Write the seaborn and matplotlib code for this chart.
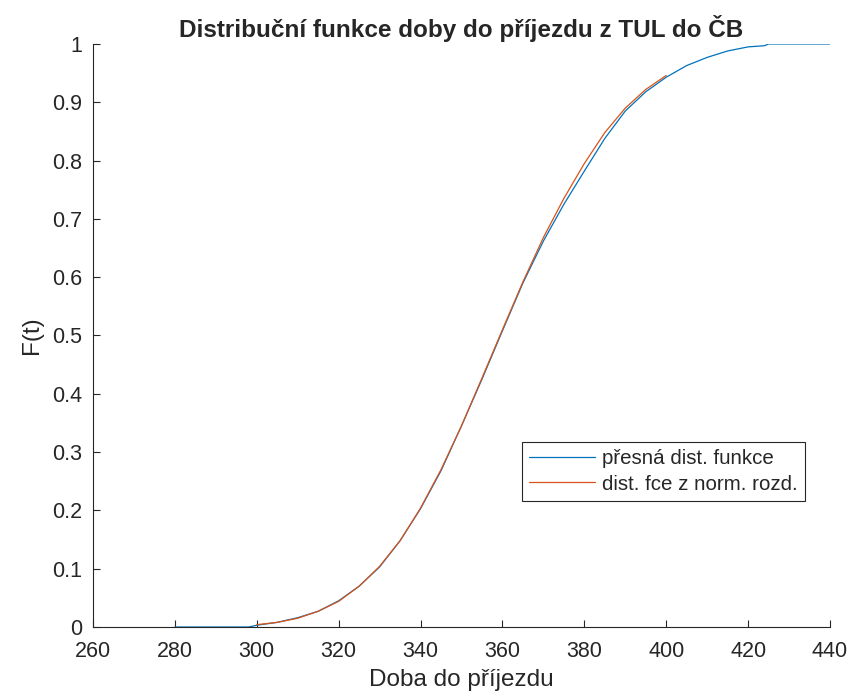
import pandas as pd
import matplotlib
matplotlib.use("Agg")
import matplotlib.pyplot as plt
import seaborn as sns

# values
t_exact = [280, 298, 300, 305, 310, 315, 320, 325, 330, 335, 340, 345, 350, 355,
           360, 365, 370, 375, 380, 385, 390, 395, 400, 405, 410, 415, 420, 424,
           425, 440]
F_exact = [0.0, 0.0, 0.003, 0.008, 0.016, 0.027, 0.045, 0.07, 0.103, 0.148,
           0.203, 0.268, 0.345, 0.425, 0.508, 0.59, 0.662, 0.725, 0.782, 0.838,
           0.885, 0.918, 0.943, 0.963, 0.977, 0.988, 0.995, 0.997, 1.0, 1.0]

t_norm = [300, 305, 310, 315, 320, 325, 330, 335, 340, 345, 350, 355, 360,
          365, 370, 375, 380, 385, 390, 395, 400]
F_norm = [0.004, 0.008, 0.015, 0.027, 0.044, 0.07, 0.104, 0.148, 0.204,
          0.27, 0.345, 0.427, 0.51, 0.592, 0.668, 0.735, 0.795, 0.848, 0.89,
          0.922, 0.946]

label_exact = "přesná dist. funkce"
label_norm = "dist. fce z norm. rozd."

sns.set_style("ticks")
plt.rcParams["font.family"] = ["Liberation Sans", "DejaVu Sans"]
plt.rcParams["xtick.direction"] = "in"
plt.rcParams["ytick.direction"] = "in"

df_exact = pd.DataFrame({"t": t_exact, "F": F_exact})
df_norm = pd.DataFrame({"t": t_norm, "F": F_norm})

fig = plt.figure(figsize=(8.61, 6.98), dpi=100)
ax = fig.add_axes([0.108, 0.1017, 0.856, 0.8353])

sns.lineplot(data=df_exact, x="t", y="F", ax=ax, color="#0072BD",
             linewidth=0.9, label=label_exact)
sns.lineplot(data=df_norm, x="t", y="F", ax=ax, color="#D95319",
             linewidth=0.9, label=label_norm)

ax.set_xlim(260, 440)
ax.set_ylim(0, 1)
ax.set_xticks(range(260, 441, 20))
ax.set_yticks([i / 10 for i in range(11)])
ax.set_yticklabels(["0"] + [f"{i / 10:.1f}" for i in range(1, 10)] + ["1"])
ax.tick_params(labelsize=15.5, colors="#262626", length=5, width=0.8)
ax.tick_params(axis="x", pad=10)
ax.tick_params(axis="y", pad=8)
for s in ["left", "bottom"]:
    ax.spines[s].set_linewidth(0.8)
    ax.spines[s].set_color("#262626")
sns.despine(ax=ax)

ax.set_xlabel("Doba do příjezdu", fontsize=17.5, color="#262626", labelpad=5)
ax.set_ylabel("F(t)", fontsize=17.5, color="#262626", labelpad=6)
ax.set_title("Distribuční funkce doby do příjezdu z TUL do ČB",
             fontsize=17.5, fontweight="bold", pad=5)

leg = ax.legend(loc="upper left", bbox_to_anchor=(0.582, 0.317),
                fancybox=False, framealpha=1, edgecolor="#262626",
                fontsize=14.8, borderaxespad=0, handlelength=3.2,
                handletextpad=0.35, borderpad=0.35, labelspacing=0.3)
leg.get_frame().set_linewidth(0.8)

plt.savefig("out.png", dpi=100)
